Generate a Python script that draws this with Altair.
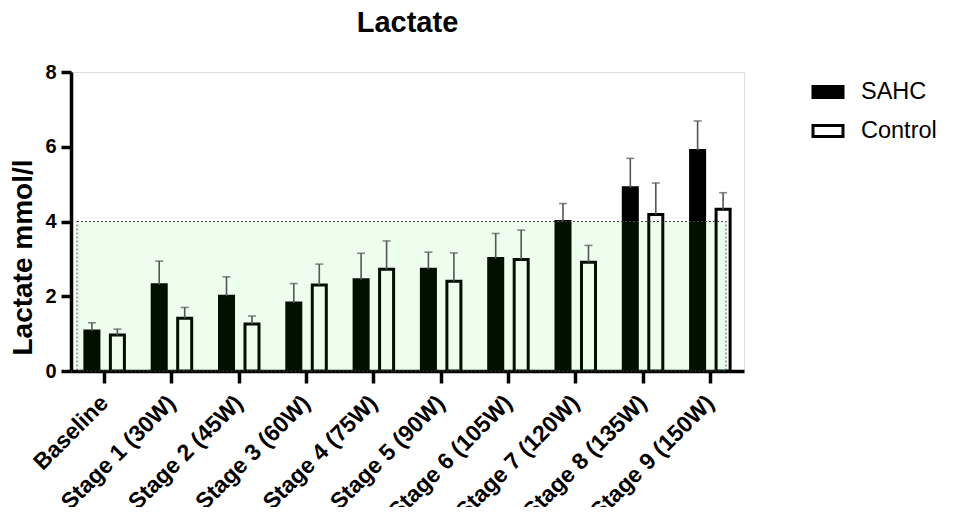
import altair as alt
import pandas as pd

stages = ["Baseline", "Stage 1 (30W)", "Stage 2 (45W)", "Stage 3 (60W)", "Stage 4 (75W)",
          "Stage 5 (90W)", "Stage 6 (105W)", "Stage 7 (120W)", "Stage 8 (135W)", "Stage 9 (150W)"]
groups = ["SAHC", "Control"]
sahc_mean = [1.07, 2.31, 2.00, 1.82, 2.44, 2.72, 3.01, 4.00, 4.90, 5.90]
sahc_upper = [1.29, 2.94, 2.52, 2.34, 3.15, 3.18, 3.68, 4.48, 5.69, 6.69]
ctrl_mean = [0.96, 1.41, 1.26, 2.30, 2.72, 2.40, 2.98, 2.91, 4.19, 4.33]
ctrl_upper = [1.12, 1.70, 1.47, 2.86, 3.48, 3.16, 3.77, 3.36, 5.03, 4.77]
zone_low = [0]
zone_high = [4]

rows = []
for i, s in enumerate(stages):
    rows.append({"stage": s, "group": "SAHC", "value": sahc_mean[i], "upper": sahc_upper[i]})
    rows.append({"stage": s, "group": "Control", "value": ctrl_mean[i], "upper": ctrl_upper[i]})
df = pd.DataFrame(rows)
zone = pd.DataFrame({"lo": zone_low, "hi": zone_high})

FONT = "Liberation Sans"

x_enc = alt.X("stage:N", sort=stages, title=None,
              scale=alt.Scale(paddingInner=0.413, paddingOuter=0.2065),
              axis=alt.Axis(labelAngle=-45, labelAlign="right", labelBaseline="middle",
                            labelFontSize=23, labelFontWeight="bold", labelFont=FONT,
                            labelColor="black", labelPadding=16,
                            tickSize=12, tickWidth=3.5, tickColor="black",
                            domainWidth=3.5, domainColor="black"))
xo_enc = alt.XOffset("group:N", sort=groups,
                     scale=alt.Scale(paddingInner=0.45, paddingOuter=0))
y_scale = alt.Scale(domain=[0, 8], nice=False)

bars = alt.Chart(df).mark_bar(stroke="black", strokeWidth=3).encode(
    x=x_enc,
    xOffset=xo_enc,
    y=alt.Y("value:Q", scale=y_scale, title="Lactate mmol/l",
            axis=alt.Axis(values=[0, 2, 4, 6, 8], grid=False,
                          labelFontSize=20, labelFontWeight="bold", labelFont=FONT,
                          labelColor="black", labelPadding=5,
                          tickSize=10, tickWidth=3.5, tickColor="black",
                          domainWidth=3.5, domainColor="black",
                          titleFontSize=28, titleFontWeight="bold", titleFont=FONT,
                          titleColor="black", titleAngle=270, titleAlign="center",
                          titleBaseline="middle", titleX=-48, titleY=185)),
    fill=alt.Fill("group:N", sort=groups,
                  scale=alt.Scale(domain=groups, range=["black", "white"]),
                  legend=alt.Legend(orient="none", legendX=743, legendY=6, title=None,
                                    symbolType="M-1.2,-0.44H1.2V0.44H-1.2Z",
                                    symbolSize=625, symbolStrokeColor="black",
                                    symbolStrokeWidth=3, symbolOpacity=1,
                                    labelFontSize=23.5, labelFont=FONT, labelColor="black",
                                    labelOffset=19, rowPadding=13, padding=0,
                                    labelLimit=200)),
)

shade = alt.Chart(zone).mark_rect(fill="#00ee00", opacity=0.07).encode(
    x=alt.value(6), x2=alt.value(655),
    y=alt.Y("lo:Q", scale=y_scale), y2="hi:Q",
)
shade_border = alt.Chart(zone).mark_rect(fillOpacity=0, stroke="#444444",
                                         strokeDash=[2, 2], strokeWidth=1).encode(
    x=alt.value(6), x2=alt.value(655),
    y=alt.Y("lo:Q", scale=y_scale), y2="hi:Q",
)

err = alt.Chart(df).mark_rule(color="#555555", strokeWidth=1.6).encode(
    x=x_enc, xOffset=xo_enc,
    y=alt.Y("value:Q", scale=y_scale), y2="upper:Q",
)
caps = alt.Chart(df).mark_tick(color="#555555", thickness=1.6, size=8).encode(
    x=x_enc, xOffset=xo_enc,
    y=alt.Y("upper:Q", scale=y_scale),
)

chart = alt.layer(bars, shade, shade_border, err, caps).properties(
    width=673, height=299,
    padding={"left": 63, "top": 64, "right": 202, "bottom": 136},
    autosize=alt.AutoSizeParams(type="none"),
    title=alt.TitleParams("Lactate", fontSize=29, fontWeight="bold", font=FONT,
                          color="black", anchor="middle", frame="group", offset=24),
).configure_view(stroke=None).configure(background="white")

chart.save("out.html", embed_options={"renderer": "svg", "actions": False})
